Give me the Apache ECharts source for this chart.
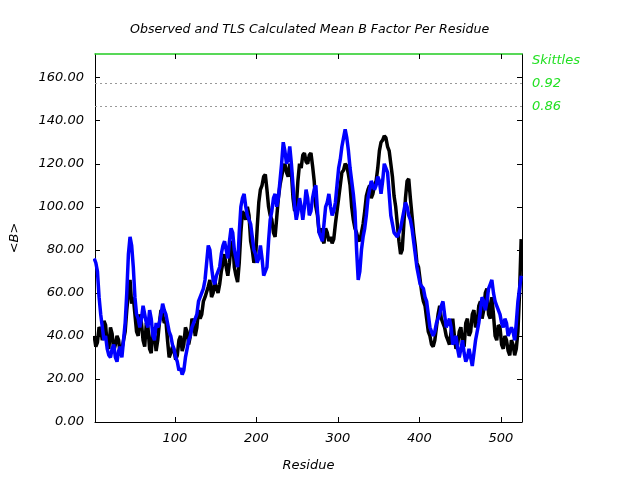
<!DOCTYPE html>
<html>
<head>
<meta charset="utf-8">
<script src="https://cdn.jsdelivr.net/npm/echarts@6/dist/echarts.min.js"></script>
<style>html,body{margin:0;padding:0;background:#fff}#c{width:640px;height:480px}</style>
</head>
<body>
<div id="c"></div>
<script>
// sampled residues (every 4th) and in-between residues (offset by 2)
var residues = [1,5,9,13,17,21,25,29,33,37,41,45,49,53,57,61,65,69,73,77,81,85,89,93,97,101,105,109,113,117,121,125,129,133,137,141,145,149,153,157,161,165,169,173,177,181,185,189,193,197,201,205,209,213,217,221,225,229,233,237,241,245,249,253,257,261,265,269,273,277,281,285,289,293,297,301,305,309,313,317,321,325,329,333,337,341,345,349,353,357,361,365,369,373,377,381,385,389,393,397,401,405,409,413,417,421,425,429,433,437,441,445,449,453,457,461,465,469,473,477,481,485,489,493,497,501,505,509,513,517,521,525];
var midResidues = [3,7,11,15,19,23,27,31,35,39,43,47,51,55,59,63,67,71,75,79,83,87,91,95,99,103,107,111,115,119,123,127,131,135,139,143,147,151,155,159,163,167,171,175,179,183,187,191,195,199,203,207,211,215,219,223,227,231,235,239,243,247,251,255,259,263,267,271,275,279,283,287,291,295,299,303,307,311,315,319,323,327,331,335,339,343,347,351,355,359,363,367,371,375,379,383,387,391,395,399,403,407,411,415,419,423,427,431,435,439,443,447,451,455,459,463,467,471,475,479,483,487,491,495,499,503,507,511,515,519,523];
var observed = [40,37,43,47,36,44,33,40,31,38,
52,66,58,42,50,38,46,34,44,33,
46,50,47,30,35,29,38,33,44,36,
48,40,52,50,58,63,58,66,60,70,
78,68,82,72,65,88,96,100,84,74,
90,108,114,108,96,88,95,110,118,116,
120,104,100,120,124,121,124,119,100,88,
85,90,84,83,92,104,116,120,115,100,
90,85,88,98,108,104,110,118,130,133,
128,120,105,92,78,92,112,104,88,74,
66,56,48,40,35,44,54,46,40,36,
48,34,42,37,46,40,50,44,54,48,
60,50,58,40,45,36,40,33,38,31,
42,85];
var observedMid = [35,44,38,45,34,41,36,38,34,42,
60,55,50,40,46,35,44,32,40,38,
52,46,38,32,33,31,40,36,42,40,
46,44,48,56,58,66,60,62,64,74,
72,74,84,68,74,98,94,96,80,76,
102,110,115,100,94,86,104,114,120,114,
116,98,112,118,125,120,125,112,96,90,
83,88,86,85,98,110,117,119,110,94,
88,84,92,105,110,106,112,126,131,132,
126,114,100,84,80,104,113,96,82,72,
60,54,42,36,38,50,48,44,38,42,
40,36,44,35,48,42,52,46,56,52,
62,48,50,38,44,34,38,31,36,34,
60];
var calculated = [76,70,50,38,34,30,36,28,35,38,
60,86,72,50,44,54,46,52,40,46,
46,55,50,42,36,30,24,22,30,38,
44,48,56,60,66,82,72,64,68,78,
84,76,90,80,72,100,106,96,92,80,
74,82,68,72,94,104,100,112,130,120,
128,110,94,104,94,108,96,104,110,88,
84,100,106,96,102,118,128,136,126,112,
98,66,80,90,104,112,108,114,106,120,
116,96,88,86,90,98,100,94,84,72,
64,62,56,44,40,46,50,56,44,48,
36,40,30,38,28,34,26,38,46,58,
52,62,66,56,52,46,48,40,44,38,
56,68];
var calculatedMid = [74,58,44,40,31,34,30,33,30,46,
78,82,58,48,48,50,44,48,38,44,
50,52,46,40,34,28,25,24,34,40,
46,50,58,62,74,80,66,68,72,82,
80,84,88,76,88,104,100,96,86,78,
76,76,68,84,98,106,104,120,126,122,
120,100,98,100,100,104,98,108,98,86,
92,102,100,98,110,122,132,132,118,106,
80,70,86,96,108,112,110,112,112,118,
106,92,88,86,94,102,96,90,78,68,
64,58,50,42,42,48,54,50,44,44,
38,34,34,32,30,30,32,42,52,56,
56,64,60,54,50,44,46,42,42,46,
62];
var xTicks = [100,200,300,400,500];
var yTicks = [0,20,40,60,80,100,120,140,160];
var skittlesValues = [157.2, 146.5];
var skittlesLabels = ['0.92', '0.86'];

var FONT = 'DejaVu Sans';
var GREEN = '#22e022';
function merge(xs, ys, mx, my){
  var out = [];
  for (var i = 0; i < xs.length; i++){
    out.push([xs[i], ys[i]]);
    if (i < mx.length) out.push([mx[i], my[i]]);
  }
  return out;
}

var chart = echarts.init(document.getElementById('c'), null, {renderer:'canvas'});
var axisLineStyle = {color:'#000', width:1};
chart.setOption({
  animation:false,
  backgroundColor:'#fff',
  title:{text:'Observed and TLS Calculated Mean B Factor Per Residue', left:125, top:18,
    textStyle:{fontFamily:FONT, fontSize:12.6, fontStyle:'italic', fontWeight:'normal', color:'#000'}},
  grid:{left:94, right:118, top:54, bottom:58, containLabel:false},
  xAxis:[{
    type:'value', min:2, max:526, position:'bottom',
    name:'Residue', nameLocation:'middle', nameGap:37,
    nameTextStyle:{fontFamily:FONT, fontSize:13, fontStyle:'italic', color:'#000'},
    axisLine:{show:true, onZero:false, lineStyle:axisLineStyle},
    axisTick:{show:true, inside:true, length:5, customValues:xTicks, lineStyle:axisLineStyle},
    axisLabel:{show:true, customValues:xTicks, margin:10, fontFamily:FONT, fontSize:13, fontStyle:'italic', color:'#000'},
    splitLine:{show:false}
  },{
    type:'value', min:2, max:526, position:'top',
    axisLine:{show:true, onZero:false, lineStyle:{color:'#22cc22', width:1.5}},
    axisTick:{show:true, inside:true, length:5, customValues:xTicks, lineStyle:axisLineStyle},
    axisLabel:{show:false}, splitLine:{show:false}
  }],
  yAxis:[{
    type:'value', min:0, max:171, position:'left',
    name:'<B>', nameLocation:'middle', nameGap:74,
    nameTextStyle:{fontFamily:FONT, fontSize:13, fontStyle:'italic', color:'#000'},
    axisLine:{show:true, onZero:false, lineStyle:axisLineStyle},
    axisTick:{show:true, inside:true, length:5, customValues:yTicks, lineStyle:axisLineStyle},
    axisLabel:{show:true, customValues:yTicks, margin:11, fontFamily:FONT, fontSize:13, fontStyle:'italic', color:'#000',
      formatter:function(v){ return Number(v).toFixed(2); }},
    splitLine:{show:false}
  },{
    type:'value', min:0, max:171, position:'right',
    axisLine:{show:true, onZero:false, lineStyle:axisLineStyle},
    axisTick:{show:true, inside:true, length:5, customValues:yTicks, lineStyle:axisLineStyle},
    axisLabel:{show:false}, splitLine:{show:false}
  }],
  graphic:[{type:'text', left:532, top:54,
    style:{text:'Skittles', fill:GREEN, font:'italic 13px "DejaVu Sans"'}}],
  series:[{
    name:'Observed', type:'line', data:merge(residues, observed, midResidues, observedMid), showSymbol:false, symbol:'none',
    lineStyle:{color:'#000', width:3.5}, z:2,
    markLine:{silent:true, symbol:'none', animation:false,
      lineStyle:{color:'#999', type:[2,3], width:1},
      label:{show:true, position:'end', distance:10, color:GREEN, fontFamily:FONT, fontSize:13, fontStyle:'italic',
        formatter:function(p){ return skittlesLabels[p.dataIndex]; }},
      data:skittlesValues.map(function(v){ return {yAxis:v}; })}
  },{
    name:'Calculated', type:'line', data:merge(residues, calculated, midResidues, calculatedMid), showSymbol:false, symbol:'none',
    lineStyle:{color:'#0000ff', width:3.5}, z:3
  }]
});
</script>
</body>
</html>
